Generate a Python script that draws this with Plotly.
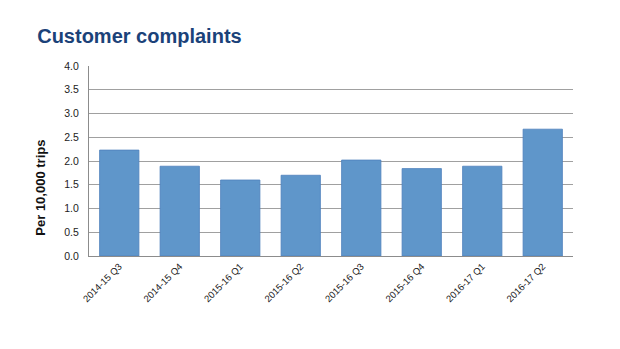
import plotly.graph_objects as go

categories = ["2014-15 Q3", "2014-15 Q4", "2015-16 Q1", "2015-16 Q2",
              "2015-16 Q3", "2015-16 Q4", "2016-17 Q1", "2016-17 Q2"]
values = [2.23, 1.89, 1.60, 1.70, 2.02, 1.84, 1.89, 2.67]
y_ticks = [0.0, 0.5, 1.0, 1.5, 2.0, 2.5, 3.0, 3.5, 4.0]

fig = go.Figure()
fig.add_trace(go.Bar(
    x=categories, y=values,
    marker=dict(color="#5F96CA", line=dict(color="#4F81BD", width=0.8)),
))

fig.update_layout(
    width=620, height=349,
    margin=dict(l=89, r=47, t=66, b=93),
    paper_bgcolor="white", plot_bgcolor="white",
    bargap=0.35,
    showlegend=False,
    font=dict(family="Liberation Sans, Arial, sans-serif", color="#222222"),
    title=dict(text="<b>Customer complaints</b>", x=0.06, xanchor="left",
               y=0.897, yanchor="middle",
               font=dict(size=20, color="#1B4279", family="Liberation Sans, Arial, sans-serif")),
    annotations=[dict(
        text="<b>Per 10,000 trips</b>", xref="paper", yref="paper",
        x=-0.099, y=0.36, xanchor="center", yanchor="middle",
        textangle=-90, showarrow=False,
        font=dict(size=13, color="#111111", family="Liberation Sans, Arial, sans-serif"),
    )],
)
fig.update_yaxes(
    range=[0, 4.0], tickvals=y_ticks, ticktext=[f"{v:.1f}" for v in y_ticks],
    showgrid=True, gridcolor="#A0A0A0", gridwidth=1.4,
    showline=True, linecolor="#8C8C8C", linewidth=1.3,
    ticks="", ticklabelstandoff=7,
    tickfont=dict(size=10.5, color="#222222"),
    zeroline=False,
)
fig.update_xaxes(
    tickangle=-45, tickfont=dict(size=9.5, color="#222222"),
    showline=True, linecolor="#8C8C8C", linewidth=1.3,
    ticks="",
)

fig.write_html("out.html")
